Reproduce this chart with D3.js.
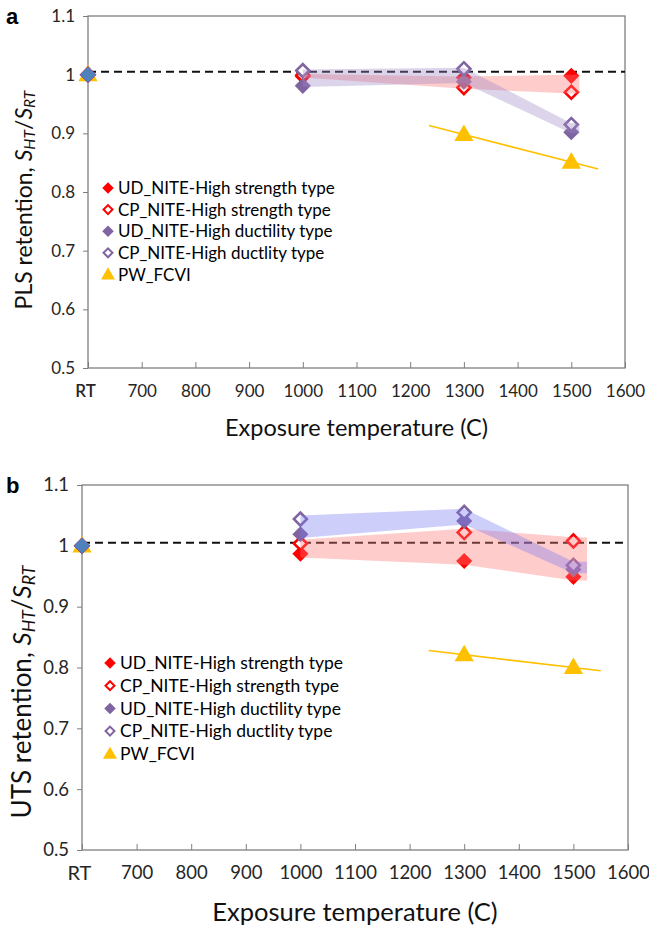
<!DOCTYPE html>
<html>
<head>
<meta charset="utf-8">
<script src="https://cdn.jsdelivr.net/npm/d3@7"></script>
<style>
  body { margin: 0; background: #fff; }
  svg { display: block; font-family: Lato, "Open Sans", sans-serif; }
</style>
</head>
<body>
<script>
var width = 649,
  height = 927;

// 600 on the x scale stands for "RT"
var temps = [600, 1000, 1300, 1500];
var pwTemps = [600, 1300, 1500];
var trendRange = [1235, 1550];
var xTickValues = [600, 700, 800, 900, 1000, 1100, 1200, 1300, 1400, 1500, 1600];
var yTickValues = [0.5, 0.6, 0.7, 0.8, 0.9, 1.0, 1.1];
var refValue = 1.005;

var seriesNames = [
  "UD_NITE-High strength type",
  "CP_NITE-High strength type",
  "UD_NITE-High ductility type",
  "CP_NITE-High ductlity type",
  "PW_FCVI"
];

// a: PLS retention
var plsUdStrength = [1.0, 0.997, 0.995, 0.998];
var plsCpStrength = [1.0, 0.999, 0.978, 0.970];
var plsUdDuctility = [1.0, 0.981, 0.988, 0.902];
var plsCpDuctility = [1.0, 1.007, 1.010, 0.915];
var plsPw = [1.0, 0.898, 0.851];

// b: UTS retention
var utsUdStrength = [1.0, 0.987, 0.975, 0.949];
var utsCpStrength = [1.0, 1.004, 1.022, 1.008];
var utsUdDuctility = [1.0, 1.019, 1.041, 0.961];
var utsCpDuctility = [1.0, 1.044, 1.055, 0.968];
var utsPw = [1.0, 0.821, 0.800];

var red = "#ff0000", purple = "#8064a2", gold = "#ffc000", blue = "#4f81bd";

var svg = d3.select("body").append("svg")
  .attr("width", width)
  .attr("height", height);

var diamond = d3.symbol().type(d3.symbolSquare);
var triangle = d3.symbol().type(d3.symbolTriangle);

function drawPanel(p) {
  var x = d3.scaleLinear().domain([600, 1600]).range([p.left, p.right]);
  var y = d3.scaleLinear().domain([0.5, 1.1]).range([p.bottom, p.top]);
  var g = svg.append("g");

  // axes
  var xAxis = g.append("g")
    .attr("transform", "translate(0," + p.bottom + ")")
    .call(d3.axisBottom(x).tickValues(xTickValues).tickSizeInner(-6).tickSizeOuter(0)
      .tickPadding(p.xPad).tickFormat(d => d === 600 ? "RT" : d));
  xAxis.select(".domain").remove();
  xAxis.selectAll("line").attr("stroke", "#7f7f7f");
  xAxis.selectAll("text").attr("font-size", p.tickFont).attr("fill", "#262626")
    .attr("font-family", "Lato, sans-serif");
  xAxis.selectAll("text").filter(d => d === 600)
    .attr("font-size", p.rtFont).attr("font-weight", p.rtWeight).attr("dx", -3);

  var yAxis = g.append("g")
    .attr("transform", "translate(" + p.left + ",0)")
    .call(d3.axisLeft(y).tickValues(yTickValues).tickSize(5).tickPadding(p.yPad)
      .tickFormat(d => d === 1 ? "1" : d3.format(".1f")(d)));
  yAxis.select(".domain").remove();
  yAxis.selectAll("line").attr("stroke", "#7f7f7f");
  yAxis.selectAll("text").attr("font-size", p.tickFont).attr("fill", "#262626")
    .attr("font-family", "Lato, sans-serif");

  // frame
  g.append("rect")
    .attr("x", p.left).attr("y", p.top)
    .attr("width", p.right - p.left).attr("height", p.bottom - p.top)
    .attr("fill", "none").attr("stroke", "#7f7f7f").attr("stroke-width", 1.3);

  // reference line at 1
  g.append("line")
    .attr("x1", x(600)).attr("x2", x(1600))
    .attr("y1", y(refValue)).attr("y2", y(refValue))
    .attr("stroke", "#111").attr("stroke-width", 2)
    .attr("stroke-dasharray", "8,5");

  // PW_FCVI trend line (least squares through the exposed points)
  var pts = pwTemps.map((t, i) => [t, p.pw[i]]).slice(1);
  var mx = d3.mean(pts, d => d[0]), my = d3.mean(pts, d => d[1]);
  var slope = d3.sum(pts, d => (d[0] - mx) * (d[1] - my)) / d3.sum(pts, d => (d[0] - mx) * (d[0] - mx));
  g.append("line")
    .attr("x1", x(trendRange[0])).attr("y1", y(my + slope * (trendRange[0] - mx)))
    .attr("x2", x(trendRange[1])).attr("y2", y(my + slope * (trendRange[1] - mx)))
    .attr("stroke", gold).attr("stroke-width", 1.6);

  // markers
  var series = [
    { v: p.udS, t: temps, fill: red, stroke: "none", shape: "d" },
    { v: p.cpS, t: temps, fill: "#fff", stroke: red, shape: "d" },
    { v: p.udD, t: temps, fill: purple, stroke: "none", shape: "d" },
    { v: p.cpD, t: temps, fill: "#fff", stroke: purple, shape: "d" },
    { v: p.pw, t: pwTemps, fill: gold, stroke: "none", shape: "t" }
  ];
  // PW first so it sits at the back at RT
  [4, 0, 1, 2, 3].forEach(k => {
    var s = series[k];
    g.selectAll(null)
      .data(s.v.map((v, i) => ({ t: s.t[i], v: v })))
      .enter().append("path")
      .attr("d", s.shape === "t" ? triangle.size(160)() : diamond.size(s.stroke === "none" ? 130 : 85)())
      .attr("transform", d => "translate(" + x(d.t) + "," + (y(d.v) + (s.shape === "t" ? 1 : 0)) + ")" + (s.shape === "d" ? " rotate(45)" : ""))
      .attr("fill", s.fill)
      .attr("stroke", s.stroke)
      .attr("stroke-width", 2.6);
  });
  // RT marker drawn on top
  g.append("path")
    .attr("d", diamond.size(120)())
    .attr("transform", "translate(" + x(temps[0]) + "," + y(p.udS[0]) + ") rotate(45)")
    .attr("fill", blue);

  // shaded bands
  function band(a, b, color, op) {
    var d = temps.slice(1).map((t, i) => ({ t: t, lo: Math.min(a[i + 1], b[i + 1]) - p.pad, hi: Math.max(a[i + 1], b[i + 1]) + p.pad }));
    var last = d[d.length - 1];
    d.push({ t: last.t + p.tail, lo: last.lo, hi: last.hi });
    g.append("path")
      .attr("d", d3.area().x(e => x(e.t)).y0(e => y(e.lo)).y1(e => y(e.hi))(d))
      .attr("fill", color).attr("fill-opacity", op);
  }
  band(p.udS, p.cpS, "#ff7878", 0.38);
  band(p.udD, p.cpD, p.ductBand, 0.36);

  // legend
  var lg = g.append("g").attr("transform", "translate(" + p.legX + "," + p.legY + ")");
  seriesNames.forEach((name, i) => {
    var s = series[i];
    var row = lg.append("g").attr("transform", "translate(0," + i * p.legStep + ")");
    row.append("path")
      .attr("d", s.shape === "t" ? triangle.size(85)() : diamond.size(s.stroke === "none" ? 66 : 40)())
      .attr("transform", s.shape === "d" ? "rotate(45)" : "translate(0,1)")
      .attr("fill", s.fill).attr("stroke", s.stroke).attr("stroke-width", 2);
    row.append("text")
      .attr("x", 10).attr("dy", "0.36em")
      .attr("font-size", p.legFont).attr("fill", "#000")
      .text(name);
  });

  // titles
  g.append("text")
    .attr("x", (p.left + p.right) / 2).attr("y", p.xTitleY)
    .attr("text-anchor", "middle").attr("font-size", p.xTitleFont).attr("fill", "#111")
    .text("Exposure temperature (C)");

  var yt = g.append("text")
    .attr("transform", "translate(" + p.yTitleX + "," + p.yTitleY + ") rotate(-90)")
    .attr("text-anchor", "middle").attr("font-size", p.yTitleFont).attr("fill", "#111");
  yt.append("tspan").text(p.yLabel);
  yt.append("tspan").attr("font-style", "italic").text("S");
  yt.append("tspan").attr("font-style", "italic").attr("font-size", p.yTitleFont * 0.68).attr("baseline-shift", "-20%").text("HT");
  yt.append("tspan").text("/");
  yt.append("tspan").attr("font-style", "italic").text("S");
  yt.append("tspan").attr("font-style", "italic").attr("font-size", p.yTitleFont * 0.68).attr("baseline-shift", "-20%").text("RT");

  svg.append("text")
    .attr("x", 6).attr("y", p.top + 8)
    .attr("font-size", 22).attr("font-weight", "bold").attr("fill", "#000")
    .attr("font-family", "Arial, 'Liberation Sans', sans-serif")
    .text(p.letter);
}

drawPanel({
  letter: "a", left: 88, right: 625, top: 16, bottom: 368,
  udS: plsUdStrength, cpS: plsCpStrength, udD: plsUdDuctility, cpD: plsCpDuctility, pw: plsPw,
  tickFont: 17, rtFont: 17, rtWeight: 600, xPad: 17, yPad: 8,
  pad: 0.002, tail: 15, ductBand: "#9a88c4",
  legX: 108, legY: 188, legStep: 21.6, legFont: 17,
  xTitleFont: 23.5, yTitleFont: 23, xTitleY: 436, yTitleX: 32, yTitleY: 200,
  yLabel: "PLS retention, "
});

drawPanel({
  letter: "b", left: 82, right: 628, top: 485, bottom: 850,
  udS: utsUdStrength, cpS: utsCpStrength, udD: utsUdDuctility, cpD: utsCpDuctility, pw: utsPw,
  tickFont: 18.5, rtFont: 20, rtWeight: 400, xPad: 16, yPad: 8,
  pad: 0.006, tail: 25, ductBand: "#7878f0",
  legX: 110, legY: 663, legStep: 22.7, legFont: 17.5,
  xTitleFont: 25.5, yTitleFont: 26, xTitleY: 921, yTitleX: 31, yTitleY: 692,
  yLabel: "UTS retention,  "
});
</script>
</body>
</html>
